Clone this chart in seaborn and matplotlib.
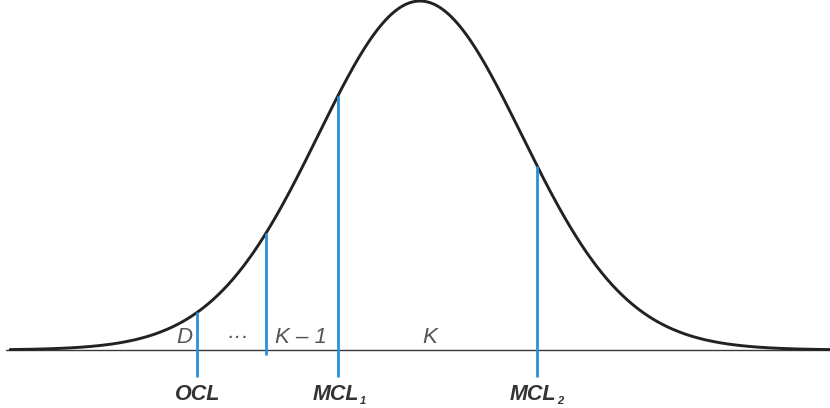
import numpy as np
import pandas as pd
import matplotlib
matplotlib.use("Agg")
import matplotlib.pyplot as plt
import seaborn as sns

# ---- data (horizontal unit = curve scale, vertical unit = peak height) ----
curve_center = 0.0
curve_scale = 1.0
curve_tail_df = 40.0          # shape of the bell (slightly heavy tails)
curve_range = [-3.94, 3.94]
boundary_names = ["OCL", "K-1 boundary", "MCL1", "MCL2"]
boundary_z = [-2.144, -1.481, -0.788, 1.125]
boundary_bottom = [-0.077, -0.014, -0.077, -0.077]
region_labels = ["D", "\u00b7\u00b7\u00b7", "K \u2013 1", "K"]
region_label_z = [-2.269, -1.755, -1.144, 0.096]
bottom_labels = ["OCL", "MCL", "MCL"]
bottom_subs = ["", "1", "2"]
bottom_label_z = [-2.139, -0.808, 1.082]
bottom_sub_z = [None, -0.58, 1.315]


def bell(x):
    u = ((np.asarray(x) - curve_center) / curve_scale) ** 2
    return (1 + u / curve_tail_df) ** (-(curve_tail_df + 1) / 2)


sns.set_theme(style="white")
plt.rcParams["font.family"] = ["Liberation Sans", "DejaVu Sans"]

fig = plt.figure(figsize=(8.3, 4.08), dpi=100)
ax = fig.add_axes([0, 0, 1, 1])

z = np.linspace(curve_range[0], curve_range[1], 800)
df = pd.DataFrame({"z": z, "h": bell(z)})
sns.lineplot(data=df, x="z", y="h", ax=ax, color="#222222", linewidth=2.1)

# baseline
ax.plot([-3.98, 3.95], [0, 0], color="#3a3a3a", linewidth=1.0, zorder=1)

# blue boundaries up to the curve
bz = np.array(boundary_z)
ax.vlines(bz, boundary_bottom, bell(bz), color="#2d8fd5", linewidth=2.0, zorder=3)

for lab, xz in zip(region_labels, region_label_z):
    ax.text(xz, 0.0344, lab, ha="center", va="center", fontsize=16,
            style="italic", color="#555555")

for lab, sub, xz, sz in zip(bottom_labels, bottom_subs, bottom_label_z, bottom_sub_z):
    ax.text(xz, -0.1275, lab, ha="center", va="center", fontsize=15.5,
            style="italic", weight="bold", color="#333333")
    if sub:
        ax.text(sz, -0.147, sub, ha="left", va="center", fontsize=8,
                style="italic", weight="bold", color="#333333")

ax.set_xlim(-420 / 104, (830 - 420) / 104)
ax.set_ylim((350 - 408) / 349, 350 / 349)
ax.axis("off")

fig.savefig("out.png", dpi=100)
